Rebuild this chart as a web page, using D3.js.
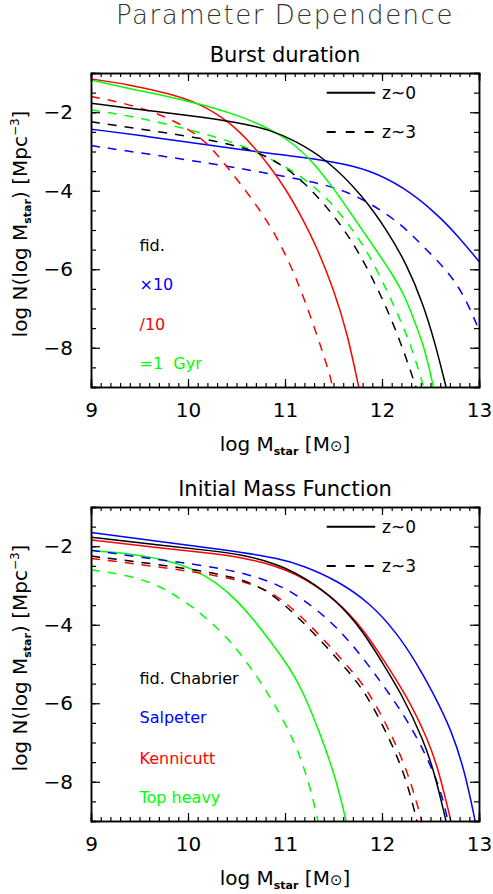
<!DOCTYPE html>
<html>
<head>
<meta charset="utf-8">
<script src="https://cdn.jsdelivr.net/npm/d3@7"></script>
<style>
  body { margin: 0; background: #fff; }
  svg text { font-family: "DejaVu Sans", sans-serif; }
</style>
</head>
<body>
<svg id="chart" width="493" height="894"></svg>
<script>
// x = log Mstar, y = log N
const xDomain = [9, 13];
const yDomain = [-9, -1];
const xMajor = [9, 10, 11, 12, 13];
const yMajor = [-2, -4, -6, -8];

// --- Burst duration panel ---
const burstFid0 = [[9,-1.77],[9.5,-1.93],[10,-2.08],[10.5,-2.25],[10.85,-2.45],[11.1,-2.72],[11.43,-3.2],[11.8,-4.12],[12.05,-5.0],[12.25,-5.85],[12.42,-6.85],[12.55,-7.9],[12.66,-9]];
const burstFid3 = [[9,-2.24],[9.5,-2.43],[10.05,-2.62],[10.6,-2.9],[10.9,-3.22],[11.19,-3.75],[11.5,-4.6],[11.75,-5.5],[12.0,-6.7],[12.2,-7.9],[12.35,-9]];
const burstX10_0 = [[9,-2.43],[9.6,-2.62],[10.15,-2.82],[10.95,-3.08],[11.54,-3.27],[11.88,-3.48],[12.22,-3.9],[12.56,-4.57],[12.8,-5.2],[13,-5.8]];
const burstX10_3 = [[9,-2.85],[9.6,-3.07],[10.23,-3.3],[10.74,-3.52],[11.36,-3.8],[11.64,-4.03],[11.88,-4.32],[12.19,-4.83],[12.41,-5.38],[12.7,-6.1],[12.87,-6.78],[13,-7.55]];
const burstD10_0 = [[9,-1.15],[9.4,-1.3],[9.8,-1.52],[10.1,-1.75],[10.43,-2.24],[10.67,-2.85],[10.85,-3.4],[11.02,-4.0],[11.19,-4.75],[11.33,-5.45],[11.5,-6.5],[11.64,-7.6],[11.76,-9]];
const burstD10_3 = [[9,-1.6],[9.3,-1.74],[9.64,-1.99],[9.88,-2.24],[10.12,-2.62],[10.26,-2.96],[10.43,-3.47],[10.67,-4.24],[10.88,-5.0],[11.1,-6.1],[11.29,-7.38],[11.46,-8.65],[11.49,-9]];
const burst1G_0 = [[9,-1.18],[9.4,-1.4],[10.05,-1.73],[10.57,-2.11],[10.9,-2.5],[11.1,-2.82],[11.3,-3.3],[11.52,-4.0],[11.74,-4.8],[11.95,-5.55],[12.1,-6.1],[12.24,-6.7],[12.33,-7.3],[12.44,-8.0],[12.53,-9]];
const burst1G_3 = [[9,-1.94],[9.54,-2.15],[10.23,-2.58],[10.6,-2.88],[10.91,-3.26],[11.19,-3.66],[11.46,-4.24],[11.7,-5.0],[11.86,-5.6],[12.05,-6.53],[12.22,-7.46],[12.32,-8.1],[12.43,-9]];

// --- Initial Mass Function panel ---
const imfChab0 = [[9,-1.77],[9.71,-1.97],[10.23,-2.11],[10.57,-2.22],[10.81,-2.38],[11.0,-2.55],[11.19,-2.78],[11.53,-3.37],[11.8,-4.15],[12.0,-4.95],[12.2,-5.75],[12.43,-6.94],[12.55,-7.85],[12.66,-9]];
const imfKenn0 = [[9,-1.84],[9.71,-2.04],[10.23,-2.18],[10.57,-2.29],[10.81,-2.44],[11.0,-2.6],[11.19,-2.8],[11.53,-3.36],[11.82,-4.15],[12.03,-4.95],[12.24,-5.75],[12.48,-6.94],[12.6,-7.85],[12.71,-9]];
const imfSalp0 = [[9,-1.65],[9.71,-1.88],[10.4,-2.1],[10.95,-2.31],[11.19,-2.5],[11.53,-2.86],[11.88,-3.45],[12.15,-4.2],[12.35,-4.95],[12.52,-5.7],[12.72,-6.7],[12.86,-7.8],[12.96,-9]];
const imfTop0 = [[9,-2.11],[9.37,-2.18],[9.71,-2.31],[10.05,-2.56],[10.3,-2.94],[10.5,-3.37],[10.67,-3.85],[10.85,-4.42],[11.05,-5.1],[11.19,-5.72],[11.36,-6.76],[11.52,-7.87],[11.63,-9]];
const imfChab3 = [[9,-2.25],[9.88,-2.52],[10.5,-2.78],[10.8,-3.1],[11.0,-3.5],[11.2,-3.97],[11.43,-4.56],[11.64,-5.15],[11.84,-5.75],[12.12,-7.1],[12.27,-8.1],[12.36,-9]];
const imfKenn3 = [[9,-2.31],[9.88,-2.58],[10.5,-2.83],[10.83,-3.12],[11.04,-3.5],[11.24,-3.97],[11.47,-4.56],[11.68,-5.15],[11.88,-5.75],[12.16,-7.1],[12.31,-8.1],[12.41,-9]];
const imfSalp3 = [[9,-2.1],[9.71,-2.35],[10.4,-2.56],[10.95,-2.95],[11.29,-3.54],[11.53,-4.05],[11.77,-4.73],[12.0,-5.5],[12.2,-6.2],[12.39,-7.0],[12.53,-7.75],[12.62,-8.35],[12.68,-9]];
const imfTop3 = [[9,-2.6],[9.37,-2.73],[9.71,-2.99],[10.05,-3.54],[10.33,-4.13],[10.54,-4.73],[10.71,-5.32],[10.85,-5.85],[11.05,-6.72],[11.19,-7.57],[11.29,-8.44],[11.34,-9]];

const burstLabels = ["fid.", "\u00d710", "/10", "=1  Gyr"];
const imfLabels = ["fid. Chabrier", "Salpeter", "Kennicutt", "Top heavy"];
const colors = ["#000000", "#0000ff", "#ff0000", "#00ff00"];

const panels = [
  { top: 73, subtitle: "Burst duration", labels: burstLabels, labelY: [-5.4, -6.4, -7.4, -8.4],
    series: [[burstX10_0,1,0],[burstX10_3,1,1],[burstD10_3,2,1],[burstD10_0,2,0],[burst1G_3,3,1],[burst1G_0,3,0],[burstFid3,0,1],[burstFid0,0,0]] },
  { top: 507, subtitle: "Initial Mass Function", labels: imfLabels, labelY: [-5.36, -6.37, -7.4, -8.4],
    series: [[imfTop3,3,1],[imfTop0,3,0],[imfSalp3,1,1],[imfSalp0,1,0],[imfKenn3,2,1],[imfChab3,0,1],[imfKenn0,2,0],[imfChab0,0,0]] }
];

const svg = d3.select("#chart");
const x = d3.scaleLinear().domain(xDomain).range([91, 479]);
const plotH = 314;

svg.append("text")
  .attr("x", 285).attr("y", 24)
  .attr("text-anchor", "middle")
  .style("font-size", "26px").style("font-weight", 200)
  .style("letter-spacing", "1.5px")
  .attr("fill", "#333")
  .text("Parameter Dependence");

function minorTicks(lo, hi, step) {
  const out = [];
  for (let v = lo; v <= hi + 1e-9; v += step) out.push(+v.toFixed(2));
  return out;
}

panels.forEach((p, pi) => {
  const y = d3.scaleLinear().domain(yDomain).range([p.top + plotH, p.top]);
  const g = svg.append("g");

  g.append("text")
    .attr("x", 285).attr("y", p.top - 11)
    .attr("text-anchor", "middle")
    .style("font-size", "21px")
    .text(p.subtitle);

  const clipId = "clip" + pi;
  g.append("clipPath").attr("id", clipId)
    .append("rect").attr("x", 91).attr("y", p.top).attr("width", 388).attr("height", plotH);

  const line = d3.line()
    .x(d => x(d[0])).y(d => y(d[1]))
    .curve(d3.curveBasis);

  g.append("g").attr("clip-path", `url(#${clipId})`)
    .selectAll("path").data(p.series).enter().append("path")
    .attr("d", d => line(d[0]))
    .attr("fill", "none")
    .attr("stroke", d => colors[d[1]])
    .attr("stroke-width", 1.5)
    .attr("stroke-dasharray", d => d[2] ? "9,8" : null);

  // axes with inward ticks on all sides
  const xMinor = minorTicks(9, 13, 0.1);
  const yMinor = minorTicks(-9, -1, 0.5);
  const bottom = p.top + plotH;

  const axes = [
    [d3.axisBottom(x).tickValues(xMinor).tickSize(-4).tickFormat(""), `translate(0,${bottom})`],
    [d3.axisBottom(x).tickValues(xMajor).tickSize(-8).tickPadding(16).tickFormat(d3.format("d")), `translate(0,${bottom})`],
    [d3.axisTop(x).tickValues(xMinor).tickSize(-4).tickFormat(""), `translate(0,${p.top})`],
    [d3.axisTop(x).tickValues(xMajor).tickSize(-8).tickFormat(""), `translate(0,${p.top})`],
    [d3.axisLeft(y).tickValues(yMinor).tickSize(-5).tickFormat(""), "translate(91,0)"],
    [d3.axisLeft(y).tickValues(yMajor).tickSize(-9).tickPadding(18).tickFormat(d => "\u2212" + Math.abs(d)), "translate(91,0)"],
    [d3.axisRight(y).tickValues(yMinor).tickSize(-5).tickFormat(""), "translate(479,0)"],
    [d3.axisRight(y).tickValues(yMajor).tickSize(-9).tickFormat(""), "translate(479,0)"]
  ];
  axes.forEach(([ax, tr]) => {
    const a = g.append("g").attr("transform", tr).call(ax);
    a.selectAll("path").attr("stroke", "#000").attr("stroke-width", 1.5);
    a.selectAll("line").attr("stroke", "#000").attr("stroke-width", 1.2);
    a.selectAll("text").style("font-size", "20px").style("font-family", "DejaVu Sans, sans-serif").attr("fill", "#000");
  });

  // x label
  const xl = g.append("text")
    .attr("x", 285).attr("y", bottom + 64)
    .attr("text-anchor", "middle")
    .style("font-size", "20px");
  xl.append("tspan").text("log M");
  xl.append("tspan").attr("dy", 4).style("font-size", "11px").style("font-weight", "bold").text("star");
  xl.append("tspan").attr("dy", -4).text(" [M");
  xl.append("tspan").style("font-size", "15px").text("\u2299");
  xl.append("tspan").text("]");

  // y label
  const cy = p.top + plotH / 2 - 6;
  const yl = g.append("text")
    .attr("transform", `translate(27,${cy}) rotate(-90)`)
    .attr("text-anchor", "middle")
    .style("font-size", "20px");
  yl.append("tspan").text("log N(log M");
  yl.append("tspan").attr("dy", 4).style("font-size", "11px").style("font-weight", "bold").text("star");
  yl.append("tspan").attr("dy", -4).text(")  [Mpc");
  yl.append("tspan").attr("dy", -8).style("font-size", "12px").text("\u2212" + "3");
  yl.append("tspan").attr("dy", 8).text("]");

  // line-style legend
  const lx0 = x(11.43), lx1 = x(11.93);
  [["z~0", -1.5, null], ["z~3", -2.5, "9,10"]].forEach(([t, v, dash]) => {
    g.append("line")
      .attr("x1", lx0).attr("x2", lx1).attr("y1", y(v)).attr("y2", y(v))
      .attr("stroke", "#000").attr("stroke-width", 2)
      .attr("stroke-dasharray", dash);
    g.append("text")
      .attr("x", x(12.0)).attr("y", y(v))
      .attr("dominant-baseline", "central")
      .style("font-size", "17px")
      .text(t);
  });

  // colour legend labels
  p.labels.forEach((t, i) => {
    g.append("text")
      .attr("x", x(9.5)).attr("y", y(p.labelY[i]))
      .attr("dominant-baseline", "central")
      .attr("fill", colors[i])
      .style("font-size", "16px")
      .style("white-space", "pre")
      .text(t);
  });
});
</script>
</body>
</html>
